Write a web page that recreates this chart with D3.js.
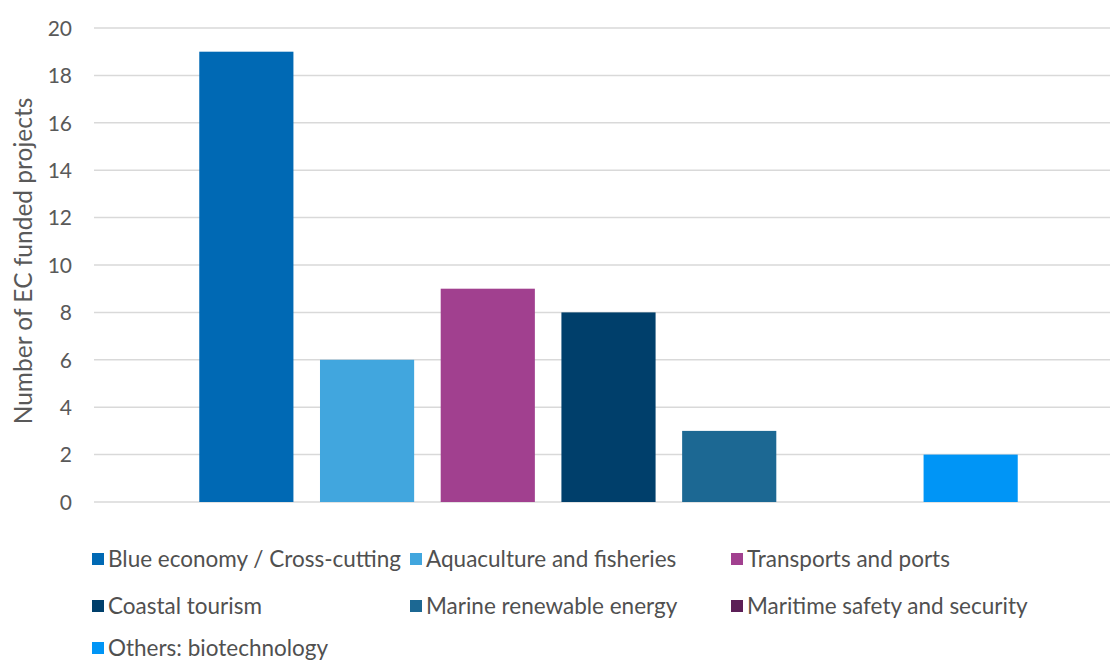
<!DOCTYPE html>
<html>
<head>
<meta charset="utf-8">
<script src="https://cdn.jsdelivr.net/npm/d3@7"></script>
<style>
  html, body { margin: 0; padding: 0; background: #fff; overflow: hidden; }
  svg { display: block; font-family: Lato, "Open Sans", sans-serif; }
</style>
</head>
<body>
<svg id="chart" width="1110" height="662"></svg>
<script>
const categories = [
  "Blue economy / Cross-cutting",
  "Aquaculture and fisheries",
  "Transports and ports",
  "Coastal tourism",
  "Marine renewable energy",
  "Maritime safety and security",
  "Others: biotechnology"
];
const values = [19, 6, 9, 8, 3, 0, 2];
const colors = ["#0069b4", "#41a6de", "#a1408f", "#003f6b", "#1c6893", "#5c1f57", "#0095f6"];
const yTicks = [0, 2, 4, 6, 8, 10, 12, 14, 16, 18, 20];
const yTitle = "Number of EC funded projects";

const svg = d3.select("#chart");
const plot = { left: 94, right: 1123, top: 28, bottom: 502 };

const y = d3.scaleLinear().domain([0, 20]).range([plot.bottom, plot.top]);
const x = d3.scaleBand().domain(categories)
  .range([plot.left, plot.right])
  .paddingInner(0.22)
  .paddingOuter(0.872);

// gridlines
svg.append("g").selectAll("line").data(yTicks).join("line")
  .attr("x1", plot.left).attr("x2", plot.right)
  .attr("y1", d => y(d)).attr("y2", d => y(d))
  .attr("stroke", "#d9d9d9").attr("stroke-width", 1.5);

// y axis labels
const yAxis = d3.axisLeft(y).tickValues(yTicks).tickSize(0).tickPadding(0);
const ga = svg.append("g").attr("transform", `translate(${plot.left - 22},0)`).call(yAxis);
ga.select(".domain").remove();
ga.selectAll("text").attr("fill", "#595959").style("font-size", "21px")
  .style("font-family", "Lato, 'Open Sans', sans-serif").attr("dy", "0.35em");

// y title
svg.append("text")
  .attr("transform", `translate(23,${(95 + 427) / 2}) rotate(-90)`)
  .attr("text-anchor", "middle").attr("dy", "0.35em")
  .attr("fill", "#595959").style("font-size", "24.5px")
  .text(yTitle);

// bars
svg.append("g").selectAll("rect").data(categories).join("rect")
  .attr("x", d => x(d)).attr("width", x.bandwidth())
  .attr("y", (d, i) => y(values[i]))
  .attr("height", (d, i) => y(0) - y(values[i]))
  .attr("fill", (d, i) => colors[i]);

// legend
const colX = [92, 410, 731];
const rowY = [559, 606, 648];
const lg = svg.append("g").selectAll("g").data(categories).join("g")
  .attr("transform", (d, i) => `translate(${colX[i % 3]},${rowY[Math.floor(i / 3)]})`);
lg.append("rect").attr("x", 0).attr("y", -6).attr("width", 12).attr("height", 12)
  .attr("fill", (d, i) => colors[i]);
lg.append("text").attr("x", 16).attr("y", 0).attr("dy", "0.35em")
  .attr("fill", "#505050").style("font-size", "22.5px").text(d => d);
</script>
</body>
</html>
